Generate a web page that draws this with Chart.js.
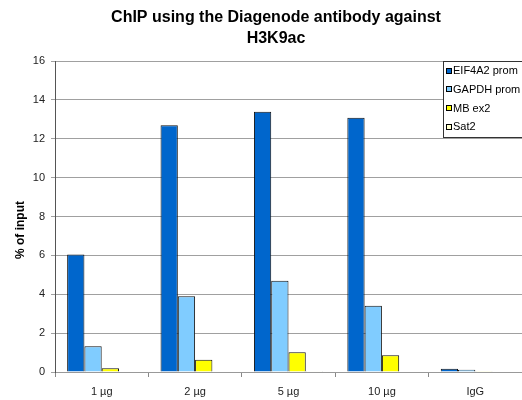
<!DOCTYPE html>
<html>
<head>
<meta charset="utf-8">
<script src="https://cdn.jsdelivr.net/npm/chart.js@4/dist/chart.umd.min.js"></script>
<style>
html,body{margin:0;padding:0;background:#fff;}
canvas{display:block;}
</style>
</head>
<body>
<canvas id="c" width="522" height="400"></canvas>
<script>
const categories = ['1 µg', '2 µg', '5 µg', '10 µg', 'IgG'];
const seriesNames = ['EIF4A2 prom', 'GAPDH prom', 'MB ex2', 'Sat2'];
const eif4a2 = [6.05, 12.69, 13.39, 13.08, 0.17];
const gapdh = [1.32, 3.9, 4.7, 3.41, 0.12];
const mbex2 = [0.19, 0.63, 1.01, 0.86, 0.04];
const sat2 = [0, 0, 0.04, 0, 0];
const yTicks = [0, 2, 4, 6, 8, 10, 12, 14, 16];
const titleLines = ['ChIP using the Diagenode antibody against', 'H3K9ac'];
const yTitle = '% of input';

const colors = ['#0066CC', '#80CCFF', '#FFFF00', '#FFFFCC'];
const seriesData = [eif4a2, gapdh, mbex2, sat2];

const FONT = '"Liberation Sans", Arial, sans-serif';

const decor = {
  id: 'decor',
  afterDraw(chart) {
    const ctx = chart.ctx;
    ctx.save();
    // title
    ctx.fillStyle = '#000';
    ctx.font = 'bold 16px ' + FONT;
    ctx.textAlign = 'center';
    ctx.textBaseline = 'alphabetic';
    ctx.fillText(titleLines[0], 276, 22);
    ctx.fillText(titleLines[1], 276, 43);
    // y title
    ctx.save();
    ctx.translate(21, 230);
    ctx.rotate(-Math.PI / 2);
    ctx.font = 'bold 12px ' + FONT;
    ctx.textAlign = 'center';
    ctx.textBaseline = 'middle';
    ctx.fillText(yTitle, 0, 0);
    ctx.restore();
    // legend
    const lx = 443.5, ly = 61.5;
    ctx.fillStyle = '#fff';
    ctx.fillRect(lx, ly, 100, 76);
    ctx.strokeStyle = '#333';
    ctx.lineWidth = 1;
    ctx.strokeRect(lx, ly, 100, 76);
    ctx.font = '11px ' + FONT;
    ctx.textAlign = 'left';
    ctx.textBaseline = 'middle';
    chart.data.datasets.forEach((ds, i) => {
      const cy = 70.5 + i * 18.8;
      ctx.fillStyle = ds.backgroundColor;
      ctx.fillRect(446.5, Math.round(cy) - 2.5, 5, 5);
      ctx.strokeStyle = '#000';
      ctx.strokeRect(446.5, Math.round(cy) - 2.5, 5, 5);
      ctx.fillStyle = '#000';
      ctx.fillText(ds.label, 453, cy + 0.5);
    });
    ctx.restore();
  }
};

new Chart(document.getElementById('c'), {
  type: 'bar',
  data: {
    labels: categories,
    datasets: seriesNames.map((n, i) => ({
      label: n,
      data: seriesData[i],
      backgroundColor: colors[i],
      borderColor: '#111',
      borderWidth: 1,
      categoryPercentage: 0.74,
      barPercentage: 1.0
    }))
  },
  options: {
    responsive: false,
    animation: false,
    devicePixelRatio: 1,
    layout: { padding: { top: 61, left: 0, right: 0, bottom: 0 } },
    plugins: { legend: { display: false }, title: { display: false }, tooltip: { enabled: false } },
    scales: {
      x: {
        grid: { drawOnChartArea: false, drawTicks: true, tickLength: 5, color: '#888', offset: true },
        border: { color: '#999', width: 1 },
        ticks: { color: '#222', font: { family: FONT, size: 11 }, padding: 8 },
        afterFit(scale) { scale.height = 28; }
      },
      y: {
        min: 0, max: 16,
        afterBuildTicks(scale) { scale.ticks = yTicks.map(v => ({ value: v })); },
        grid: { color: '#a0a0a0', tickLength: 4, drawTicks: true },
        border: { color: '#555', width: 1 },
        ticks: { color: '#222', font: { family: FONT, size: 11 }, padding: 6 },
        afterFit(scale) { scale.width = 55; }
      }
    }
  },
  plugins: [decor]
});
</script>
</body>
</html>
